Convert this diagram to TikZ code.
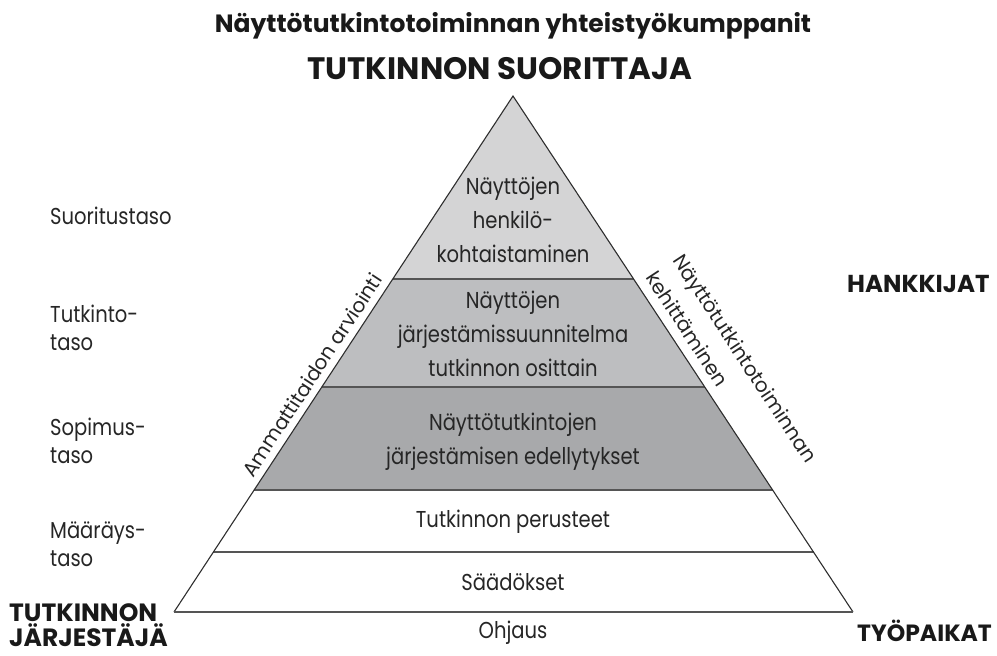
\documentclass[tikz,border=0pt]{standalone}
\usepackage{fontspec}
\setmainfont[FakeStretch=0.85]{Poppins}
\newfontfamily\widefont{Poppins}
\definecolor{lvA}{HTML}{D4D4D5}
\definecolor{lvB}{HTML}{BDBEC0}
\definecolor{lvC}{HTML}{A8A9AB}
\definecolor{edge}{HTML}{2E2E2E}
\definecolor{sep}{HTML}{555555}
\tikzset{
  body/.style={font=\fontsize{23}{34}\selectfont, inner sep=0pt, align=center, text=black!85},
  lbl/.style={font=\fontsize{23}{28}\selectfont, inner sep=0pt, align=left, anchor=west, text=black!85},
  side/.style={font=\widefont\fontsize{20}{32}\selectfont, inner sep=0pt, text=black!85},
  heavy/.style={font=\widefont\bfseries\fontsize{25}{25}\selectfont, inner sep=0pt, text=black!90},
  sepline/.style={draw=sep, line width=1.3pt},
}
\begin{document}
\begin{tikzpicture}[x=1pt,y=-1pt]
\useasboundingbox (0,0) rectangle (997,656);
% corners
\coordinate (apex) at (513,96);
\coordinate (bl) at (174,612);
\coordinate (br) at (853,612);
% level boundaries (left/right points on sides)
\def\lx#1{174+(612-#1)*0.6579}
\def\rx#1{853-(612-#1)*0.6579}
\coordinate (l1) at ({\lx{279}},279); \coordinate (r1) at ({\rx{279}},279);
\coordinate (l2) at ({\lx{387}},387); \coordinate (r2) at ({\rx{387}},387);
\coordinate (l3) at ({\lx{490}},490); \coordinate (r3) at ({\rx{490}},490);
\coordinate (l4) at ({\lx{552}},552); \coordinate (r4) at ({\rx{552}},552);
% fills
\fill[lvA] (apex) -- (r1) -- (l1) -- cycle;
\fill[lvB] (l1) -- (r1) -- (r2) -- (l2) -- cycle;
\fill[lvC] (l2) -- (r2) -- (r3) -- (l3) -- cycle;
% separators
\draw[sepline] (l1) -- (r1);
\draw[sepline] (l2) -- (r2);
\draw[sepline] (l3) -- (r3);
\draw[sepline] (l4) -- (r4);
% outline
\draw[edge, line width=1.1pt, line join=miter] (bl) -- (apex) -- (br);
\draw[sepline] (bl) -- (br);
% titles
\node[heavy] (title) at (513,26) {Näyttötutkintotoiminnan yhteistyökumppanit};
\node[heavy, font=\widefont\bfseries\fontsize{31}{30}\selectfont] (suor) at (500,69) {TUTKINNON SUORITTAJA};
\node[heavy, anchor=west, font=\widefont\bfseries\fontsize{24.5}{25}\selectfont] (hank) at (847,284) {HANKKIJAT};
\node[heavy, anchor=west, font=\widefont\bfseries\fontsize{23.5}{25}\selectfont] (tyo) at (857,631) {TYÖPAIKAT};
\node[heavy, anchor=west, align=left, font=\widefont\bfseries\fontsize{25}{25}\selectfont] (jarj) at (9,625) {TUTKINNON\\JÄRJESTÄJÄ};
% level labels
\node[lbl] (s1) at (50,216) {Suoritustaso};
\node[lbl] (s2) at (50,328) {Tutkinto-\\taso};
\node[lbl] (s3) at (50,441) {Sopimus-\\taso};
\node[lbl] (s4) at (50,544) {Määräys-\\taso};
% body texts
\node[body] (t1) at (513,220) {Näyttöjen\\henkilö-\\kohtaistaminen};
\node[body] (t2) at (513,334) {Näyttöjen\\järjestämissuunnitelma\\tutkinnon osittain};
\node[body] (t3) at (513,442) {Näyttötutkintojen\\järjestämisen edellytykset};
\node[body] (t4) at (513,522) {Tutkinnon perusteet};
\node[body] (t5) at (513,582) {Säädökset};
\node[body] (t6) at (513,633) {Ohjaus};
% side texts
\node[side, rotate=56.7] (arv) at (312,375) {Ammattitaidon arviointi};
\node[side, align=left, rotate=-56.7] (keh) at (732,367) {Näyttötutkintotoiminnan\\kehittäminen};
\end{tikzpicture}
\end{document}
